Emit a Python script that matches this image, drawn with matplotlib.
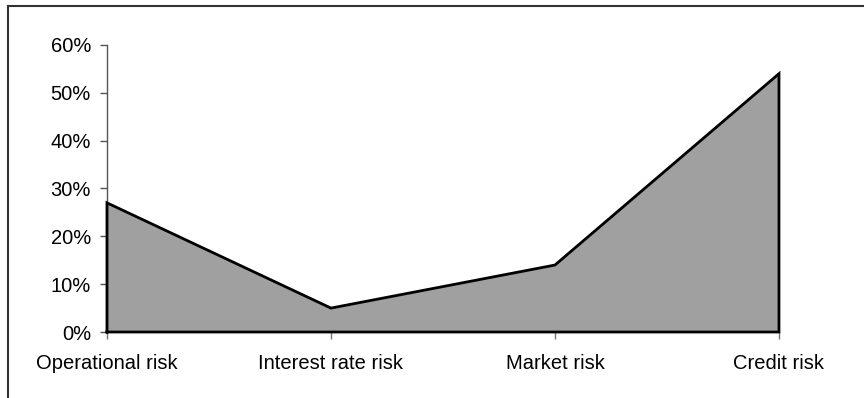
import matplotlib
matplotlib.use('Agg')
import matplotlib.pyplot as plt
from matplotlib.lines import Line2D
from matplotlib.ticker import PercentFormatter

plt.rcParams['font.family'] = ['Liberation Sans', 'DejaVu Sans']

categorias = ['Operational risk', 'Interest rate risk', 'Market risk', 'Credit risk']
valores = [27, 5, 14, 54]

fig = plt.figure(figsize=(8.64, 3.98), dpi=100)
ax = fig.add_axes([0.1238, 0.1658, 0.7778, 0.7212])

x = list(range(len(categorias)))
ax.fill_between(x, 0, valores, facecolor='#a0a0a0', edgecolor='none')
# contorno completo del área
ax.plot([x[0]] + x + [x[-1], x[0]], [0] + valores + [0, 0], color='black', lw=2,
        solid_joinstyle='miter', clip_on=False, zorder=3)

ax.set_xlim(0, 3)
ax.set_ylim(0, 60)
ax.set_yticks(range(0, 61, 10))
ax.yaxis.set_major_formatter(PercentFormatter(decimals=0))
ax.set_xticks(x)
ax.set_xticklabels(categorias)

for s in ['top', 'right', 'bottom']:
    ax.spines[s].set_visible(False)
ax.spines['left'].set_color('#555555')
ax.spines['left'].set_linewidth(1)
ax.tick_params(axis='y', direction='out', length=5, width=1, color='#555555', pad=6.5, labelsize=14.5)
ax.tick_params(axis='x', direction='out', length=5, width=1, color='#777777', pad=11, labelsize=14.5)

# marco parcial de la figura
fig.add_artist(Line2D([8/864, 1], [1 - 6/398, 1 - 6/398], color='#333333', lw=1.5))
fig.add_artist(Line2D([8/864, 8/864], [0, 1 - 6/398], color='#333333', lw=1.5))

fig.savefig('out.png', dpi=100)
